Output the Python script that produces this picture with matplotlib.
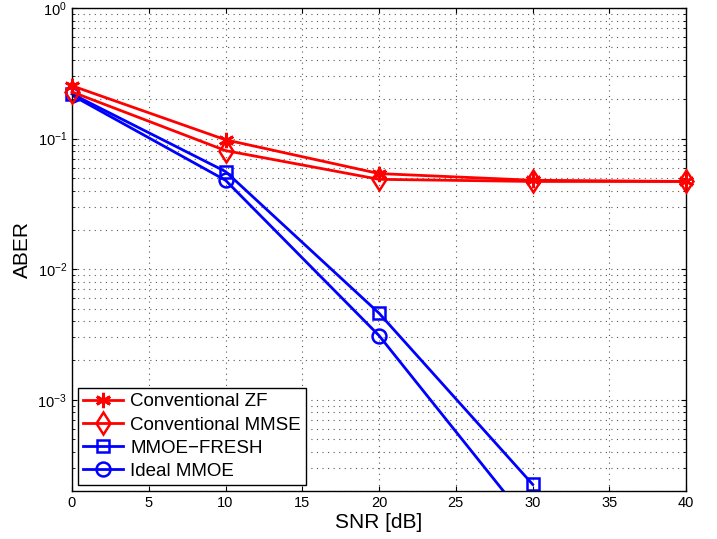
import matplotlib
matplotlib.use("Agg")
from matplotlib import pyplot as plt

snr = [0, 10, 20, 30, 40]
zf = [0.254, 0.098, 0.054, 0.048, 0.047]
mmse = [0.228, 0.081, 0.0488, 0.047, 0.047]
snr_fresh = [0, 10, 20, 30]
fresh = [0.22, 0.056, 0.0046, 2.25e-4]
snr_ideal = [0, 10, 20, 30]
ideal = [0.215, 0.048, 0.0031, 1.05e-4]

plt.rcParams['font.family'] = ['Liberation Sans', 'DejaVu Sans']

fig = plt.figure(figsize=(7.17, 5.39), dpi=100)
ax = fig.add_axes([0.1004, 0.089, 0.8566, 0.896])

ax.semilogy(snr, zf, 'r-', marker=(6, 2, 0), lw=2, ms=11, mew=2, clip_on=False, zorder=4,
            label='Conventional ZF')
ax.semilogy(snr, mmse, 'r-d', lw=2, ms=11.5, mew=1.8, mfc='none',
            clip_on=False, zorder=3, label='Conventional MMSE')
ax.semilogy(snr_fresh, fresh, 'b-s', lw=2, ms=9, mew=1.8, mfc='none', clip_on=False,
            label='MMOE\u2212FRESH')
ax.semilogy(snr_ideal, ideal, 'b-o', lw=2, ms=10, mew=1.8, mfc='none', label='Ideal MMOE')

ax.set_xlim(0, 40)
ax.set_ylim(2e-4, 1)
ax.set_xticks(range(0, 41, 5))
ax.grid(True, which='major', ls=(0, (1, 4)), color='0.35', lw=0.8)
ax.grid(True, which='minor', axis='y', ls=(0, (1, 4)), color='0.35', lw=0.8)
ax.tick_params(which='both', direction='in', top=True, right=True, labelsize=10.5)
ax.set_xlabel('SNR [dB]', fontsize=15, labelpad=2)
ax.set_ylabel('ABER', fontsize=15)

leg = ax.legend(loc='lower left', fontsize=13.5, fancybox=False, edgecolor='k',
                borderaxespad=0.3, handlelength=2.1, borderpad=0.3, labelspacing=0.32,
                handletextpad=0.4, framealpha=1)
leg.get_frame().set_linewidth(1.0)
for s in ax.spines.values():
    s.set_linewidth(1.0)

fig.savefig('out.png', dpi=100)
